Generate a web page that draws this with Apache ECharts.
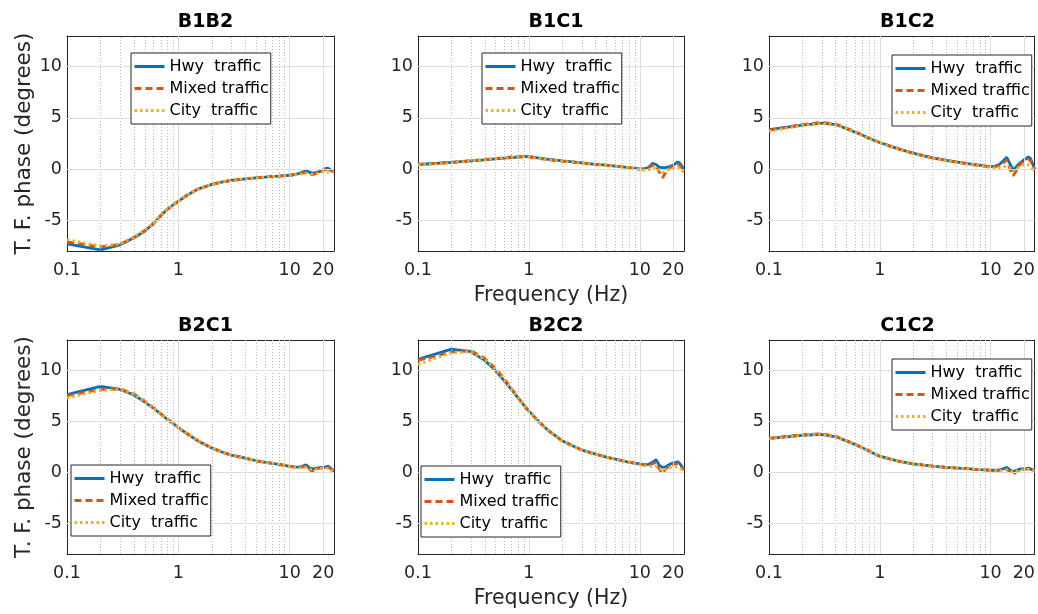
<!DOCTYPE html>
<html>
<head>
<meta charset="utf-8">
<script src="https://cdn.jsdelivr.net/npm/echarts@6/dist/echarts.min.js"></script>
<style>
  html, body { margin: 0; padding: 0; background: #fff; }
  #chart { width: 1038px; height: 614px; }
</style>
</head>
<body>
<div id="chart"></div>
<script>
// frequency points (Hz)
const freq = [0.1, 0.2, 0.3, 0.4, 0.5, 0.6, 0.7, 0.8, 0.9, 1, 1.2, 1.5, 2, 2.5, 3, 4, 5, 6, 7, 8, 9, 10,
  11, 12, 13, 14, 15, 16, 17, 18, 19, 20, 21, 22, 23, 24, 25];

const panelNames = ["B1B2", "B1C1", "B1C2", "B2C1", "B2C2", "C1C2"];
const seriesNames = ["Hwy  traffic", "Mixed traffic", "City  traffic"];
const xTicks = [0.1, 1, 10, 20];
const xMinor = [0.2, 0.3, 0.4, 0.5, 0.6, 0.7, 0.8, 0.9, 2, 3, 4, 5, 6, 7, 8, 9];
const yTicks = [-5, 0, 5, 10];

// phase values (degrees)
const b1b2Hwy = [-7.3, -7.9, -7.4, -6.7, -6.05, -5.3, -4.5, -3.9, -3.5, -3.15, -2.55, -1.95, -1.5, -1.25, -1.1, -0.95, -0.85, -0.78, -0.72, -0.68, -0.64, -0.6,
  -0.55, -0.45, -0.3, -0.2, -0.3, -0.4, -0.35, -0.3, -0.2, -0.05, 0.05, 0.1, -0.05, -0.15, -0.2];
const b1b2Mixed = [-7.1, -7.6, -7.35, -6.65, -6.0, -5.3, -4.5, -3.9, -3.5, -3.15, -2.55, -1.95, -1.5, -1.25, -1.1, -0.95, -0.85, -0.78, -0.72, -0.68, -0.64, -0.6,
  -0.55, -0.5, -0.4, -0.3, -0.45, -0.55, -0.45, -0.35, -0.25, -0.1, -0.05, -0.05, -0.15, -0.2, -0.25];
const b1b2City = [-6.9, -7.5, -7.3, -6.6, -5.95, -5.25, -4.45, -3.9, -3.5, -3.15, -2.55, -1.95, -1.5, -1.25, -1.1, -0.95, -0.85, -0.78, -0.72, -0.68, -0.64, -0.6,
  -0.58, -0.5, -0.45, -0.4, -0.45, -0.5, -0.45, -0.4, -0.35, -0.25, -0.25, -0.3, -0.3, -0.3, -0.3];

const b1c1Hwy = [0.45, 0.65, 0.8, 0.9, 1.0, 1.08, 1.13, 1.18, 1.22, 1.25, 1.1, 0.95, 0.8, 0.7, 0.6, 0.47, 0.38, 0.3, 0.22, 0.15, 0.08, 0.0,
  0.05, 0.15, 0.55, 0.45, 0.2, 0.15, 0.15, 0.2, 0.3, 0.4, 0.55, 0.7, 0.55, 0.25, -0.05];
const b1c1Mixed = [0.45, 0.65, 0.82, 0.93, 1.03, 1.12, 1.18, 1.2, 1.2, 1.18, 1.05, 0.92, 0.78, 0.68, 0.58, 0.46, 0.37, 0.29, 0.21, 0.14, 0.07, 0.0,
  0.0, 0.1, 0.4, 0.3, -0.3, -0.85, -0.4, 0.0, 0.2, 0.3, 0.45, 0.55, 0.35, 0.1, -0.1];
const b1c1City = [0.4, 0.6, 0.8, 0.92, 1.02, 1.1, 1.16, 1.19, 1.19, 1.17, 1.04, 0.91, 0.77, 0.67, 0.57, 0.45, 0.36, 0.28, 0.2, 0.13, 0.05, -0.05,
  -0.1, -0.05, 0.1, 0.15, -0.1, -0.35, -0.2, -0.05, 0.05, 0.1, 0.2, 0.2, 0.05, -0.15, -0.3];

const b1c2Hwy = [3.85, 4.3, 4.5, 4.35, 3.95, 3.6, 3.3, 3.0, 2.8, 2.6, 2.3, 1.95, 1.55, 1.3, 1.1, 0.85, 0.68, 0.55, 0.45, 0.37, 0.3, 0.25,
  0.3, 0.45, 0.8, 1.15, 0.5, -0.1, 0.2, 0.5, 0.7, 0.9, 1.05, 1.2, 1.0, 0.5, 0.0];
const b1c2Mixed = [3.8, 4.35, 4.55, 4.4, 4.0, 3.65, 3.32, 3.02, 2.8, 2.6, 2.3, 1.95, 1.55, 1.3, 1.1, 0.85, 0.68, 0.55, 0.45, 0.37, 0.3, 0.25,
  0.25, 0.35, 0.6, 0.9, 0.0, -0.65, -0.2, 0.3, 0.6, 0.75, 0.9, 1.0, 0.8, 0.35, -0.1];
const b1c2City = [3.7, 4.25, 4.45, 4.35, 3.95, 3.6, 3.28, 3.0, 2.78, 2.57, 2.27, 1.9, 1.5, 1.25, 1.05, 0.8, 0.65, 0.52, 0.42, 0.33, 0.25, 0.15,
  0.1, 0.15, 0.2, 0.3, 0.1, -0.2, 0.0, 0.2, 0.35, 0.45, 0.5, 0.4, 0.2, 0.0, -0.2];

const b2c1Hwy = [7.65, 8.45, 8.15, 7.6, 6.9, 6.3, 5.7, 5.2, 4.8, 4.4, 3.8, 3.1, 2.4, 1.98, 1.7, 1.4, 1.15, 1.0, 0.9, 0.8, 0.7, 0.6,
  0.55, 0.52, 0.6, 0.75, 0.45, 0.35, 0.4, 0.45, 0.5, 0.5, 0.55, 0.6, 0.5, 0.3, 0.05];
const b2c1Mixed = [7.55, 8.15, 8.2, 7.7, 7.0, 6.35, 5.75, 5.2, 4.8, 4.4, 3.8, 3.1, 2.4, 1.98, 1.7, 1.4, 1.15, 1.0, 0.9, 0.8, 0.7, 0.6,
  0.52, 0.5, 0.55, 0.65, 0.35, 0.05, 0.25, 0.4, 0.45, 0.45, 0.5, 0.55, 0.45, 0.25, 0.05];
const b2c1City = [7.3, 8.05, 8.15, 7.65, 6.95, 6.3, 5.7, 5.2, 4.8, 4.4, 3.8, 3.1, 2.4, 1.98, 1.7, 1.4, 1.15, 1.0, 0.9, 0.8, 0.7, 0.57,
  0.5, 0.45, 0.45, 0.5, 0.35, 0.25, 0.3, 0.35, 0.4, 0.4, 0.4, 0.4, 0.3, 0.15, 0.0];

const b2c2Hwy = [11.1, 12.1, 11.85, 11.0, 10.0, 9.0, 8.1, 7.3, 6.6, 6.0, 5.1, 4.1, 3.1, 2.6, 2.2, 1.8, 1.5, 1.3, 1.15, 1.0, 0.92, 0.85,
  0.78, 0.8, 1.0, 1.25, 0.7, 0.5, 0.55, 0.7, 0.85, 0.95, 1.0, 1.05, 0.85, 0.55, 0.3];
const b2c2Mixed = [11.0, 11.8, 11.95, 11.2, 10.2, 9.2, 8.2, 7.35, 6.6, 6.0, 5.1, 4.1, 3.1, 2.6, 2.2, 1.8, 1.5, 1.3, 1.15, 1.0, 0.92, 0.85,
  0.72, 0.7, 0.85, 1.0, 0.3, -0.1, 0.3, 0.55, 0.7, 0.8, 0.85, 0.9, 0.7, 0.45, 0.25];
const b2c2City = [10.6, 11.75, 11.85, 11.1, 10.1, 9.1, 8.15, 7.3, 6.6, 6.0, 5.1, 4.1, 3.1, 2.6, 2.2, 1.8, 1.5, 1.3, 1.15, 1.0, 0.9, 0.8,
  0.68, 0.6, 0.6, 0.65, 0.4, 0.2, 0.3, 0.4, 0.5, 0.55, 0.55, 0.5, 0.4, 0.3, 0.2];

const c1c2Hwy = [3.35, 3.65, 3.75, 3.5, 3.1, 2.75, 2.4, 2.1, 1.82, 1.6, 1.35, 1.1, 0.85, 0.72, 0.62, 0.5, 0.43, 0.37, 0.32, 0.28, 0.25, 0.22,
  0.22, 0.25, 0.35, 0.5, 0.25, 0.1, 0.2, 0.3, 0.35, 0.35, 0.38, 0.42, 0.35, 0.25, 0.2];
const c1c2Mixed = [3.35, 3.7, 3.8, 3.55, 3.12, 2.77, 2.42, 2.1, 1.82, 1.6, 1.35, 1.1, 0.85, 0.72, 0.62, 0.5, 0.43, 0.37, 0.32, 0.28, 0.25, 0.22,
  0.2, 0.22, 0.3, 0.35, 0.05, -0.2, 0.05, 0.2, 0.3, 0.3, 0.33, 0.38, 0.3, 0.22, 0.18];
const c1c2City = [3.3, 3.65, 3.75, 3.5, 3.1, 2.75, 2.4, 2.1, 1.82, 1.6, 1.35, 1.1, 0.85, 0.72, 0.62, 0.5, 0.43, 0.37, 0.32, 0.28, 0.25, 0.2,
  0.18, 0.2, 0.22, 0.25, 0.15, 0.05, 0.12, 0.2, 0.25, 0.25, 0.28, 0.3, 0.25, 0.18, 0.15];

const panelData = [
  [b1b2Hwy, b1b2Mixed, b1b2City],
  [b1c1Hwy, b1c1Mixed, b1c1City],
  [b1c2Hwy, b1c2Mixed, b1c2City],
  [b2c1Hwy, b2c1Mixed, b2c1City],
  [b2c2Hwy, b2c2Mixed, b2c2City],
  [c1c2Hwy, c1c2Mixed, c1c2City]
];

const colors = ["#0072BD", "#D95319", "#EDB120"];
const dashes = ["solid", [7, 4], [2.5, 3]];
const font = "DejaVu Sans";
const axisColor = "#262626";

const grids = [
  { left: 67, top: 36, width: 267, height: 215 },
  { left: 418, top: 36, width: 266, height: 215 },
  { left: 769, top: 36, width: 267, height: 215 },
  { left: 67, top: 340, width: 267, height: 214 },
  { left: 418, top: 340, width: 266, height: 214 },
  { left: 769, top: 340, width: 267, height: 214 }
];
const legendPos = [
  { left: 131, top: 53 },
  { left: 482, top: 53 },
  { left: 892, top: 55 },
  { left: 71, top: 465 },
  { left: 421, top: 466 },
  { left: 892, top: 359 }
];

let myChart = echarts.init(document.getElementById("chart"));

let title = [], xAxis = [], yAxis = [], series = [], legend = [];

grids.forEach((g, i) => {
  title.push({
    text: panelNames[i],
    left: g.left + g.width / 2,
    top: g.top - 28,
    textAlign: "center",
    textStyle: { fontFamily: font, fontSize: 19, fontWeight: "bold", color: "#000" }
  });

  // bottom axis + top axis (box ticks)
  [false, true].forEach(isTop => {
    xAxis.push({
      type: "log",
      logBase: 10,
      gridIndex: i,
      min: 0.1,
      max: 25,
      position: isTop ? "top" : "bottom",
      name: !isTop && (i == 1 || i == 4) ? "Frequency (Hz)" : "",
      nameLocation: "middle",
      nameGap: 34,
      nameTextStyle: { fontFamily: font, fontSize: 20.5, color: axisColor },
      axisLine: { show: true, onZero: false, lineStyle: { color: axisColor, width: 1 } },
      axisTick: { show: true, inside: true, length: 3, customValues: xTicks, lineStyle: { color: axisColor } },
      axisLabel: {
        show: !isTop,
        customValues: xTicks,
        margin: 10,
        fontFamily: font,
        fontSize: 17.5,
        color: axisColor,
        formatter: v => String(v)
      },
      splitLine: { show: false },
      minorTick: { show: false },
      minorSplitLine: { show: false }
    });
  });

  // left axis + right axis
  [false, true].forEach(isRight => {
    yAxis.push({
      type: "value",
      gridIndex: i,
      min: -8,
      max: 13,
      position: isRight ? "right" : "left",
      name: !isRight && (i == 0 || i == 3) ? "T. F. phase (degrees)" : "",
      nameLocation: "middle",
      nameGap: 32,
      nameTextStyle: { fontFamily: font, fontSize: 21.5, color: axisColor },
      axisLine: { show: true, onZero: false, lineStyle: { color: axisColor, width: 1 } },
      axisTick: { show: true, inside: true, length: 3, customValues: yTicks, lineStyle: { color: axisColor } },
      axisLabel: {
        show: !isRight,
        customValues: yTicks,
        margin: 5,
        fontFamily: font,
        fontSize: 17.5,
        color: axisColor
      },
      splitLine: { show: false }
    });
  });

  // grid lines drawn as mark lines through the axes
  let gridLines = [];
  xMinor.forEach(v => gridLines.push({ xAxis: v, lineStyle: { color: "#b8b8b8", type: [1, 2], width: 1 } }));
  [1, 10, 20].forEach(v => gridLines.push({ xAxis: v, lineStyle: { color: "#dedede", type: "solid", width: 1 } }));
  yTicks.forEach(v => gridLines.push({ yAxis: v, lineStyle: { color: "#dedede", type: "solid", width: 1 } }));

  series.push({
    name: "grid" + i,
    type: "line",
    xAxisIndex: 2 * i,
    yAxisIndex: 2 * i,
    data: [[1, 0]],
    symbol: "none",
    lineStyle: { width: 0 },
    silent: true,
    z: 1,
    markLine: {
      silent: true,
      symbol: "none",
      label: { show: false },
      animation: false,
      data: gridLines
    }
  });

  panelData[i].forEach((vals, k) => {
    series.push({
      name: seriesNames[k],
      type: "line",
      xAxisIndex: 2 * i,
      yAxisIndex: 2 * i,
      data: freq.map((f, j) => [f, vals[j]]),
      symbol: "none",
      z: 3 + k,
      color: colors[k],
      lineStyle: { color: colors[k], width: 2.8, type: dashes[k] }
    });
  });

  legend.push({
    data: seriesNames,
    orient: "vertical",
    left: legendPos[i].left,
    top: legendPos[i].top,
    itemWidth: 30,
    itemHeight: 10,
    itemGap: 5,
    padding: [5, 2, 5, 2],
    borderColor: axisColor,
    borderWidth: 1,
    borderRadius: 0,
    backgroundColor: "#fff",
    selectedMode: false,
    itemStyle: { opacity: 0 },
    lineStyle: { width: 3 },
    z: 10,
    textStyle: { fontFamily: font, fontSize: 16, lineHeight: 17, color: "#000" }
  });
});

this.option = {
  animation: false,
  backgroundColor: "#fff",
  title: title,
  grid: grids.map(g => Object.assign({ show: false, containLabel: false }, g)),
  xAxis: xAxis,
  yAxis: yAxis,
  legend: legend,
  series: series
};

myChart.setOption(this.option, true);
</script>
</body>
</html>
